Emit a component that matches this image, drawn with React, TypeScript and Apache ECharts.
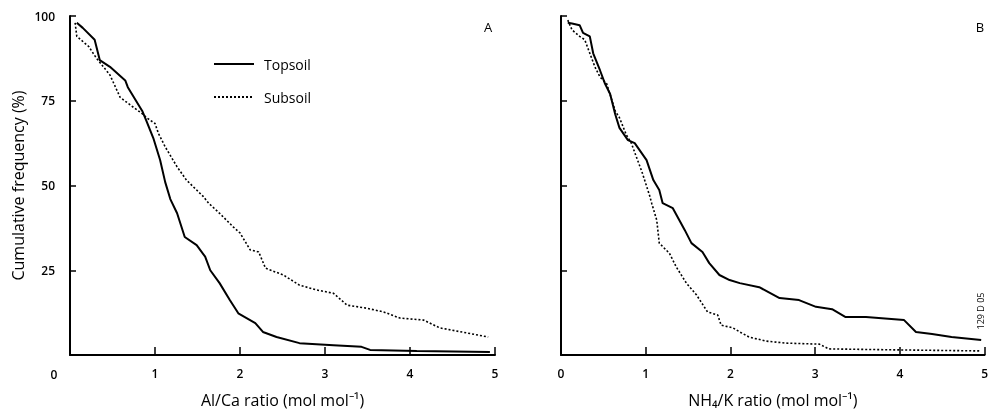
import React, { useEffect, useRef } from "react";
import * as echarts from "echarts";

// Panel A: Al/Ca ratio
const aTopX = [0.08, 0.15, 0.29, 0.35, 0.47, 0.65, 0.68, 0.85, 0.9, 0.98, 1.06, 1.12, 1.18, 1.26, 1.35, 1.49, 1.59, 1.65, 1.76, 1.88, 1.98, 2.18, 2.27, 2.43, 2.7, 3.1, 3.43, 3.53, 4.08, 4.94];
const aTopY = [98, 96.5, 93, 87, 85, 81, 79, 72, 69, 64, 57.5, 51, 46, 41.8, 34.8, 32.4, 29, 25, 21.2, 16.2, 12.3, 9.4, 6.8, 5.3, 3.5, 2.9, 2.4, 1.5, 1.2, 0.9];
const aSubX = [0.06, 0.08, 0.22, 0.31, 0.47, 0.59, 0.75, 0.86, 0.9, 1.0, 1.04, 1.12, 1.26, 1.37, 1.57, 1.63, 1.76, 1.92, 2.0, 2.12, 2.22, 2.3, 2.51, 2.7, 2.9, 3.1, 3.26, 3.49, 3.69, 3.88, 4.16, 4.35, 4.67, 4.92];
const aSubY = [98, 94, 91, 87.6, 82.6, 76, 73, 71, 70, 68.3, 65.4, 61.4, 55.5, 51.6, 46.7, 44.8, 41.8, 37.8, 36, 31, 30.4, 25.6, 23.6, 20.6, 19.2, 18.2, 14.7, 13.8, 12.7, 10.9, 10.3, 8, 6.5, 5.3];

// Panel B: NH4/K ratio
const bTopX = [0.08, 0.13, 0.22, 0.26, 0.34, 0.38, 0.46, 0.52, 0.58, 0.64, 0.69, 0.79, 0.87, 1.01, 1.09, 1.16, 1.2, 1.32, 1.46, 1.54, 1.67, 1.75, 1.87, 1.99, 2.11, 2.34, 2.58, 2.81, 3.01, 3.2, 3.36, 3.6, 4.05, 4.19, 4.38, 4.61, 4.96];
const bTopY = [98, 97.8, 97.3, 95, 94, 89, 84, 80, 77, 71, 67, 63.4, 62.5, 57.5, 51.6, 48.7, 44.8, 43.3, 36.9, 33, 30.4, 27.1, 23.6, 22.1, 21.2, 20, 16.8, 16.2, 14.2, 13.5, 11.2, 11.2, 10.3, 6.8, 6.2, 5.3, 4.4];
const bSubX = [0.08, 0.13, 0.22, 0.28, 0.34, 0.4, 0.46, 0.54, 0.64, 0.69, 0.77, 0.83, 0.89, 0.96, 1.05, 1.07, 1.13, 1.16, 1.28, 1.36, 1.48, 1.6, 1.73, 1.85, 1.89, 2.03, 2.11, 2.22, 2.42, 2.66, 3.05, 3.16, 3.99, 4.96];
const bSubY = [98.8, 95.9, 94, 93, 89, 85, 82, 80, 72, 70, 65, 62.5, 58.4, 53.7, 46.7, 44.8, 39.8, 33, 30, 26, 21.2, 17.7, 12.7, 11.8, 8.8, 8, 6.8, 5.3, 4.1, 3.5, 3.2, 1.8, 1.5, 1.2];

const seriesNames = ["Topsoil", "Subsoil"];
const xTitles = ["Al/Ca ratio (mol mol⁻¹)", "NH₄/K ratio (mol mol⁻¹)"];
const yTitle = "Cumulative frequency (%)";
const panelLetters = ["A", "B"];
const figureCode = "129 D 05";

const FONT = "Open Sans";

const zip = (xs: number[], ys: number[]) => xs.map((x, i) => [x, ys[i]]);

export default function App() {
  const ref = useRef<HTMLDivElement>(null);
  useEffect(() => {
    if (!ref.current) return;
    const chart = echarts.init(ref.current, undefined, { renderer: "svg" });
    const axisLine = { show: true, onZero: false, lineStyle: { color: "#000", width: 2 } };
    const tickFont = { color: "#000", fontSize: 12, fontWeight: 600, fontFamily: FONT };
    const mkX = (gi: number, hideZero: boolean) => ({
      type: "value",
      gridIndex: gi,
      min: 0,
      max: 5,
      interval: 1,
      axisLine,
      axisTick: { show: true, inside: true, length: 8, lineStyle: { color: "#000", width: 1.5 } },
      axisLabel: {
        ...tickFont,
        margin: 12,
        formatter: (v: number) => (hideZero && v === 0 ? "" : String(v)),
      },
      splitLine: { show: false },
      name: xTitles[gi],
      nameLocation: "middle",
      nameGap: 37,
      nameTextStyle: { color: "#000", fontSize: 16, fontFamily: FONT },
    });
    const mkY = (gi: number, showLabels: boolean) => ({
      type: "value",
      gridIndex: gi,
      min: 0,
      max: 100,
      interval: 25,
      axisLine,
      axisTick: { show: true, inside: true, length: 6, lineStyle: { color: "#000", width: 1.5 } },
      axisLabel: {
        show: showLabels,
        ...tickFont,
        margin: 15,
        formatter: (v: number) => (v === 0 ? "" : String(v)),
      },
      splitLine: { show: false },
      name: showLabels ? yTitle : "",
      nameLocation: "middle",
      nameGap: 44,
      nameTextStyle: { color: "#000", fontSize: 16, fontFamily: FONT },
    });
    const solid = { color: "#000", width: 2, type: "solid" };
    const dotted = { color: "#000", width: 1.6, type: [2, 2] };
    const mkSeries = (name: string, gi: number, data: number[][], ls: any) => ({
      type: "line",
      name,
      xAxisIndex: gi,
      yAxisIndex: gi,
      data,
      symbol: "none",
      showSymbol: false,
      lineStyle: ls,
      itemStyle: { color: "#000" },
    });
    chart.setOption({
      animation: false,
      grid: [
        { left: 70, top: 16, width: 425, height: 339 },
        { left: 561, top: 16, width: 425, height: 339 },
      ],
      xAxis: [mkX(0, true), mkX(1, false)],
      yAxis: [mkY(0, true), mkY(1, false)],
      legend: {
        data: seriesNames,
        orient: "vertical",
        left: 208,
        top: 52,
        itemWidth: 40,
        itemHeight: 14,
        itemGap: 19,
        itemStyle: { opacity: 0 },
        textStyle: { color: "#000", fontSize: 14, fontFamily: FONT, padding: [0, 0, 0, 5] },
      },
      series: [
        mkSeries(seriesNames[0], 0, zip(aTopX, aTopY), solid),
        mkSeries(seriesNames[1], 0, zip(aSubX, aSubY), dotted),
        mkSeries(seriesNames[0], 1, zip(bTopX, bTopY), solid),
        mkSeries(seriesNames[1], 1, zip(bSubX, bSubY), dotted),
      ],
      graphic: [
        { type: "text", x: 54, y: 374, style: { text: "0", fill: "#000", fontSize: 12, fontWeight: 600, fontFamily: FONT, align: "center", verticalAlign: "middle" } },
        { type: "text", x: 488, y: 27, style: { text: panelLetters[0], fill: "#000", fontSize: 13, fontFamily: FONT, align: "center", verticalAlign: "middle" } },
        { type: "text", x: 980, y: 27, style: { text: panelLetters[1], fill: "#000", fontSize: 13, fontFamily: FONT, align: "center", verticalAlign: "middle" } },
        { type: "text", x: 980, y: 311, rotation: Math.PI / 2, style: { text: figureCode, fill: "#000", fontSize: 9, fontFamily: FONT, align: "center", verticalAlign: "middle" } },
      ],
    });
    return () => chart.dispose();
  }, []);
  return <div ref={ref} style={{ position: "fixed", left: 0, top: 0, width: 991, height: 414 }} />;
}
